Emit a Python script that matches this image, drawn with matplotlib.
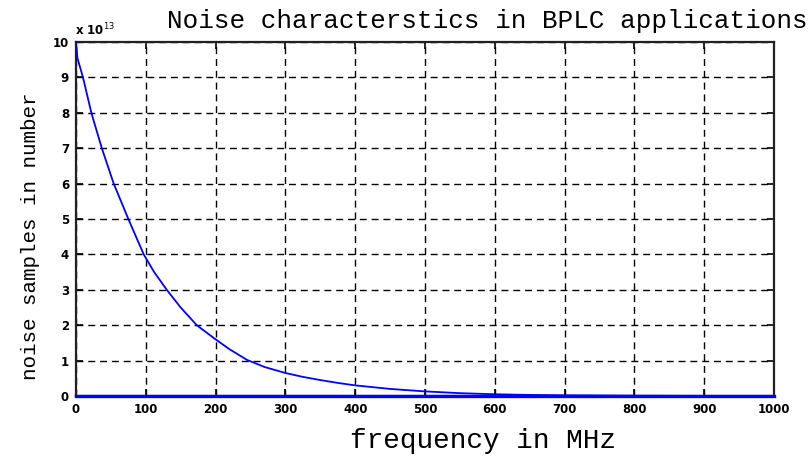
import matplotlib
matplotlib.use("Agg")
import matplotlib.pyplot as plt

# data (values in units of 1e13)
freq_mhz = [0, 2, 10, 22, 37, 54, 75, 97, 112, 130, 150, 173, 200, 220, 245,
            270, 300, 325, 350, 375, 400, 450, 500, 550, 600, 650, 700, 800,
            900, 1000]
noise = [10.0, 9.55, 9.0, 8.0, 7.0, 6.0, 5.0, 4.0, 3.5, 3.0, 2.5, 2.0, 1.6,
         1.32, 1.02, 0.82, 0.65, 0.54, 0.45, 0.37, 0.3, 0.2, 0.13, 0.08, 0.05,
         0.03, 0.02, 0.008, 0.003, 0.001]
baseline_f = [0, 1000]
baseline_v = [0, 0]
x_ticks = [0, 100, 200, 300, 400, 500, 600, 700, 800, 900, 1000]
y_ticks = [0, 1, 2, 3, 4, 5, 6, 7, 8, 9, 10]

fig = plt.figure(figsize=(8.09, 4.57), dpi=100)
W, H = 809, 457
ax = fig.add_axes([76 / W, 1 - 396 / H, (774 - 76) / W, (396 - 42) / H])

ax.plot(freq_mhz, noise, color="#0000ff", lw=1.3, zorder=3)
ax.plot(baseline_f, baseline_v, color="#0000ff", lw=2.4, zorder=4, clip_on=False)

ax.set_xlim(0, 1000)
ax.set_ylim(0, 10)
ax.set_xticks(x_ticks)
ax.set_yticks(y_ticks)
ax.set_xticklabels([str(t) for t in x_ticks], fontsize=8.5, fontweight="bold",
                   family="DejaVu Sans")
ax.set_yticklabels([str(t) for t in y_ticks], fontsize=8.5, fontweight="bold",
                   family="DejaVu Sans")
ax.tick_params(direction="in", length=5, width=1.2, top=True, right=True,
               pad=5, colors="black")
ax.grid(True, color="black", linestyle=(0, (5, 3.5)), linewidth=1.0)
for s in ax.spines.values():
    s.set_linewidth(1.6)
    s.set_color("#222222")

fig.text(75 / W, 1 - 35 / H, r"x 10$^{13}$", fontsize=8.5, fontweight="bold",
         family="DejaVu Sans", ha="left", va="baseline")
fig.text(487 / W, 1 - 28 / H, "Noise characterstics in BPLC applications",
         fontsize=18.7, family="Liberation Mono", ha="center", va="baseline")
fig.text(483 / W, 1 - 448 / H, "frequency in MHz", fontsize=20,
         family="Liberation Mono", ha="center", va="baseline")
fig.text(36 / W, 1 - 236 / H, "noise samples in number", fontsize=15,
         family="Liberation Mono", ha="center", va="baseline", rotation=90,
         rotation_mode="anchor")

fig.savefig("out.png", dpi=100)
